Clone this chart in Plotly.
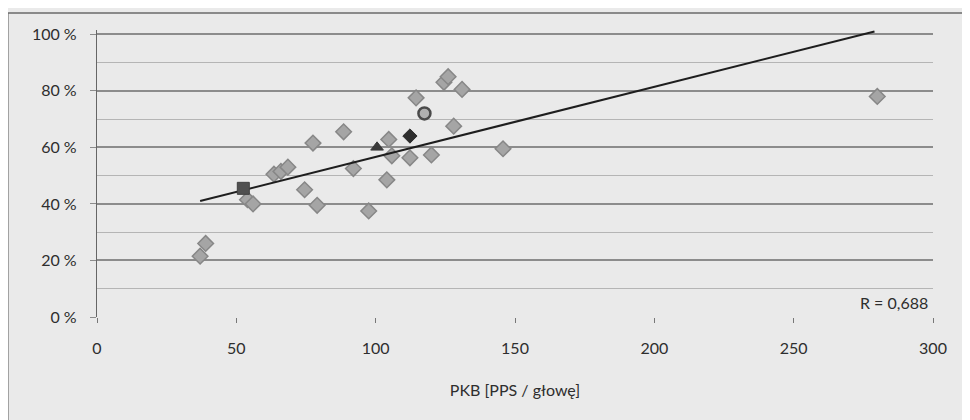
import plotly.graph_objects as go

# grey diamonds: PKB [PPS / głowę] vs share (%)
pkb = [37, 39, 54, 56, 63.5, 66, 68.5, 74.5, 77.5, 79, 88.5, 92, 97.5, 104, 104.7,
       105.8, 112.3, 114.5, 120, 124.5, 126, 131, 128, 145.7, 280]
share = [21.5, 26, 41.5, 40, 50.5, 51.5, 53, 45, 61.5, 39.5, 65.5, 52.5, 37.5, 48.5, 62.8,
         57, 56.3, 77.5, 57.3, 83, 85, 80.5, 67.5, 59.5, 78]

# highlighted markers
sq_x, sq_y = [52.5], [45.5]
tri_x, tri_y = [100.5], [60]
bd_x, bd_y = [112.3], [64]
circ_x, circ_y = [117.5], [72]

# trend line (read endpoints)
trend_x = [37, 279]
trend_y = [41, 101]

x_ticks = [0, 50, 100, 150, 200, 250, 300]
y_ticks = [0, 20, 40, 60, 80, 100]
y_tick_text = ["0 %", "20 %", "40 %", "60 %", "80 %", "100 %"]
r_label = "R = 0,688"
x_title = "PKB [PPS / głowę]"

BG = "#eaeaea"
FONT = "Lato, 'Open Sans', sans-serif"
TXT = "#2e2e2e"

fig = go.Figure()

fig.add_trace(go.Scatter(
    x=pkb, y=share, mode="markers",
    marker=dict(symbol="diamond", size=12, color="#a5a5a5",
                line=dict(color="#878787", width=1.5)),
    showlegend=False, hoverinfo="skip"))

fig.add_trace(go.Scatter(
    x=trend_x, y=trend_y, mode="lines",
    line=dict(color="#1e1e1e", width=2), showlegend=False, hoverinfo="skip"))

fig.add_trace(go.Scatter(
    x=sq_x, y=sq_y, mode="markers",
    marker=dict(symbol="square", size=12, color="#505050",
                line=dict(color="#404040", width=1)),
    showlegend=False, hoverinfo="skip"))
fig.add_trace(go.Scatter(
    x=tri_x, y=tri_y, mode="markers",
    marker=dict(symbol="triangle-up", size=11, color="#3a3a3a",
                line=dict(color="#3a3a3a", width=1)),
    showlegend=False, hoverinfo="skip"))
fig.add_trace(go.Scatter(
    x=bd_x, y=bd_y, mode="markers",
    marker=dict(symbol="diamond", size=11, color="#2e2e2e",
                line=dict(color="#2e2e2e", width=1)),
    showlegend=False, hoverinfo="skip"))
fig.add_trace(go.Scatter(
    x=circ_x, y=circ_y, mode="markers",
    marker=dict(symbol="circle", size=12, color="#b0b0b0",
                line=dict(color="#4a4a4a", width=2.5)),
    showlegend=False, hoverinfo="skip"))

fig.add_annotation(x=299, y=5, xref="x", yref="y", text=r_label, showarrow=False,
                   xanchor="right", yanchor="middle",
                   font=dict(family=FONT, size=16, color=TXT))

# outer chart frame
fig.add_shape(type="line", xref="paper", yref="paper", x0=-0.1065, x1=1.036, y0=1.059, y1=1.059,
              line=dict(color="#6a6a6a", width=1.5))
fig.add_shape(type="line", xref="paper", yref="paper", x0=-0.1065, x1=-0.1065, y0=1.059, y1=-0.4,
              line=dict(color="#6a6a6a", width=1.2))

fig.update_layout(
    width=970, height=420,
    margin=dict(l=89, r=45, t=22, b=111, autoexpand=False),
    paper_bgcolor=BG, plot_bgcolor=BG,
    font=dict(family=FONT, size=16, color=TXT),
    xaxis=dict(range=[0, 300], tickvals=x_ticks, showgrid=False, zeroline=False,
               showline=False, ticks="outside", ticklen=5, tickcolor="#777777",
               ticklabelstandoff=12, automargin=False,
               tickfont=dict(size=16, color=TXT),
               title=dict(text=x_title, font=dict(size=16, color=TXT), standoff=28)),
    yaxis=dict(range=[0, 101.5], tickvals=y_ticks, ticktext=y_tick_text,
               showgrid=True, gridcolor="#8c8c8c", gridwidth=1.6,
               zeroline=False, showline=True, linecolor="#666666", linewidth=1.2,
               ticks="outside", ticklen=6, tickcolor="#8c8c8c",
               ticklabelstandoff=10, automargin=False,
               tickfont=dict(size=16, color=TXT),
               minor=dict(tickvals=[10, 30, 50, 70, 90], showgrid=True,
                          gridcolor="#b5b5b5", gridwidth=1)),
)

fig.write_html("out.html")
